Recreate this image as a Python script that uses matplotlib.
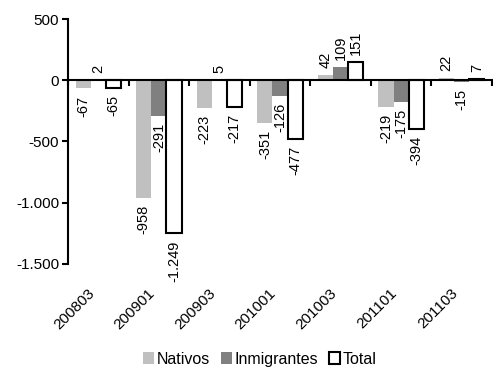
import matplotlib as mpl
import matplotlib.pyplot as plt
import matplotlib.transforms as mtransforms
import numpy as np

mpl.rcParams['font.family'] = 'Liberation Sans'
mpl.rcParams['axes.unicode_minus'] = False

periodos = ['200803', '200901', '200903', '201001', '201003', '201101', '201103']
nativos = [-67, -958, -223, -351, 42, -219, 22]
inmigrantes = [2, -291, 5, -126, 109, -175, -15]
total = [-65, -1249, -217, -477, 151, -394, 7]


def fmt(v):
    return f'{v:,}'.replace(',', '.')


fig = plt.figure(figsize=(4.93, 3.69), dpi=100)
ax = fig.add_axes([0.138, 0.2846, 0.860, 0.6639])

x = np.arange(len(periodos)) + 0.5
w = 0.25
series = [
    (nativos, -w, dict(color='#c0c0c0', label='Nativos')),
    (inmigrantes, 0, dict(color='#808080', label='Inmigrantes')),
    (total, w, dict(facecolor='white', edgecolor='black', linewidth=1.5, label='Total')),
]

for vals, off, style in series:
    ax.bar(x + off, vals, width=w, zorder=2, **style)
    for xi, v in zip(x + off, vals):
        if v < 0:
            ax.annotate(fmt(v), (xi, v), xytext=(0, -5), textcoords='offset points',
                        rotation=90, ha='center', va='top', fontsize=10.5)
        else:
            ax.annotate(fmt(v), (xi, v), xytext=(0, 5), textcoords='offset points',
                        rotation=90, ha='center', va='bottom', fontsize=10.5)

ax.set_xlim(0, 7)
ax.set_ylim(-1500, 500)
ax.set_yticks([500, 0, -500, -1000, -1500])
ax.set_yticklabels([fmt(t) for t in [500, 0, -500, -1000, -1500]], fontsize=11)

ax.spines['top'].set_visible(False)
ax.spines['right'].set_visible(False)
ax.spines['left'].set_linewidth(1.5)
ax.spines['bottom'].set_linewidth(1.5)
ax.spines['bottom'].set_position(('data', 0))
ax.spines['bottom'].set_zorder(3)

ax.set_xticks(np.arange(0, 8))
ax.set_xticklabels([])
ax.tick_params(axis='x', direction='out', length=4.5, width=1.5)
ax.tick_params(axis='y', direction='out', length=4.5, width=1.5, pad=2)

trans = mtransforms.blended_transform_factory(ax.transData, ax.transAxes)
for xi, lab in zip(x, periodos):
    ax.text(xi - 0.1, -0.11, lab, transform=trans, rotation=45,
            rotation_mode='anchor', ha='right', va='center', fontsize=11)

fig.legend(loc='lower center', bbox_to_anchor=(0.527, -0.015), ncol=3, frameon=False,
           fontsize=11.5, handlelength=0.7, handleheight=0.7, handletextpad=0.15,
           columnspacing=0.7, borderpad=0)

fig.savefig('out.png', dpi=100)
